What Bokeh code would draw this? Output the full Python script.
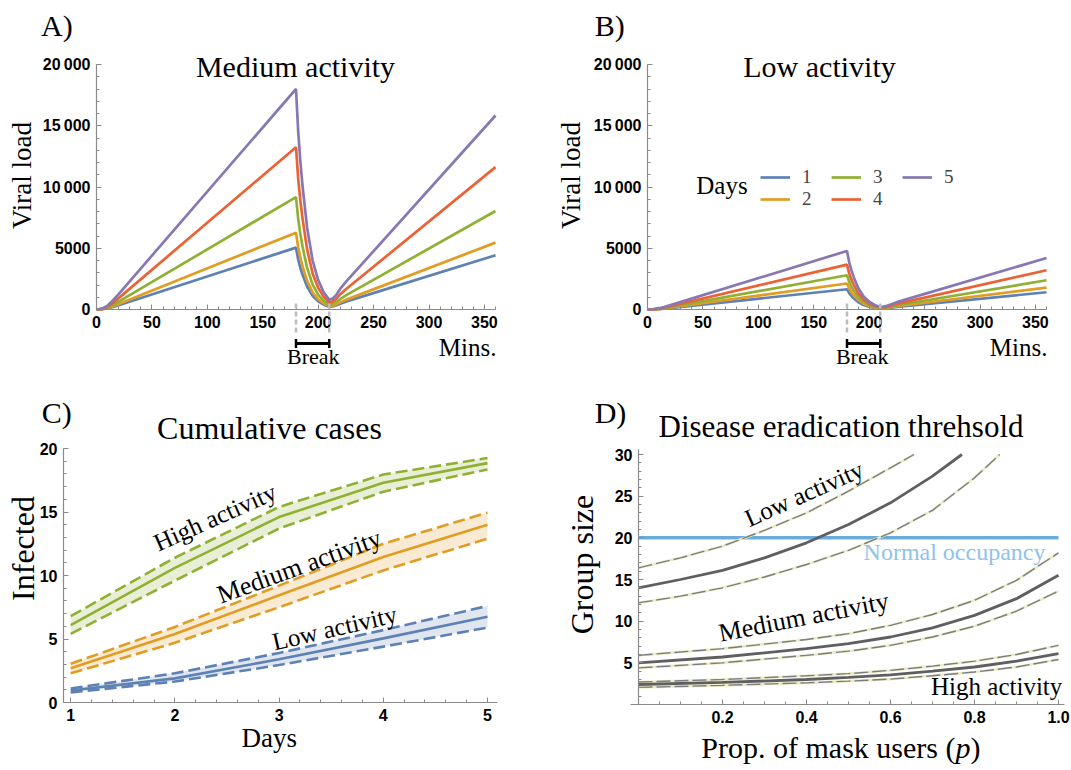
from bokeh.plotting import figure
from bokeh.layouts import row, column
from bokeh.models import (Range1d, Label, Arrow, TeeHead, Legend, LegendItem,
                          SingleIntervalTicker, FixedTicker, CustomJSTickFormatter,
                          PrintfTickFormatter)
from bokeh.embed import file_html
from bokeh.resources import INLINE

# ------------------------------------------------------------------ data
day_labels = ["1", "2", "3", "4", "5"]
day_colors = ["#5E81B5", "#E19C24", "#8FB032", "#EB6235", "#8778B3"]

# Panels A/B: viral load over a 6 hour session (break 180-210 min)
minutes = [0, 5, 10, 15, 20, 180, 182, 184, 186, 190, 195, 200, 205, 210,
           213, 216, 220, 225, 360]
medium_day1 = [0, 20, 90, 212, 354, 5050, 4070, 3370, 2810, 1880, 1120, 670, 390, 220,
               255, 325, 470, 640, 4425]
medium_day2 = [0, 25, 113, 264, 440, 6275, 5060, 4190, 3490, 2340, 1395, 835, 490, 275,
               315, 400, 580, 785, 5460]
medium_day3 = [0, 37, 165, 385, 640, 9180, 7400, 6120, 5100, 3420, 2040, 1220, 710, 400,
               460, 590, 850, 1150, 8040]
medium_day4 = [0, 50, 240, 560, 930, 13250, 10670, 8830, 7360, 4930, 2940, 1770, 1030, 580,
               660, 850, 1250, 1650, 11620]
medium_day5 = [0, 70, 320, 760, 1260, 18000, 14500, 12000, 10000, 6700, 4000, 2400, 1400, 790,
               900, 1150, 1700, 2250, 15835]
low_day1 = [0, 7, 30, 70, 116, 1655, 1330, 1100, 920, 615, 370, 220, 130, 75,
            85, 105, 150, 205, 1410]
low_day2 = [0, 8, 38, 89, 148, 2120, 1710, 1410, 1180, 790, 470, 280, 165, 95,
            110, 135, 190, 265, 1793]
low_day3 = [0, 11, 50, 117, 196, 2795, 2250, 1860, 1550, 1040, 620, 370, 220, 120,
            140, 175, 250, 345, 2388]
low_day4 = [0, 15, 66, 154, 257, 3665, 2950, 2440, 2040, 1360, 810, 490, 290, 160,
            185, 230, 330, 460, 3203]
low_day5 = [0, 19, 86, 200, 335, 4780, 3850, 3190, 2660, 1780, 1060, 640, 370, 210,
            240, 300, 430, 600, 4206]
break_start, break_end = 180, 210

# Panel C: cumulative cases
days = [1, 2, 3, 4, 5]
high_mean = [6.1, 10.6, 14.6, 17.3, 18.85]
high_upper = [6.8, 11.4, 15.4, 17.95, 19.25]
high_lower = [5.4, 9.6, 13.7, 16.6, 18.35]
med_mean = [2.7, 5.4, 8.45, 11.45, 14.0]
med_upper = [3.05, 5.95, 9.2, 12.5, 14.95]
med_lower = [2.3, 4.7, 7.5, 10.4, 12.9]
low_mean = [0.95, 1.9, 3.4, 5.05, 6.75]
low_upper = [1.1, 2.3, 3.9, 5.7, 7.6]
low_lower = [0.8, 1.65, 2.95, 4.4, 5.9]
activity_colors = {"high": "#8FB032", "medium": "#E19C24", "low": "#5E81B5"}

# Panel D: disease eradication threshold
p_low_mid = [0, 0.1, 0.2, 0.3, 0.4, 0.5, 0.6, 0.7, 0.77]
low_mid = [14.0, 15.0, 16.1, 17.6, 19.4, 21.6, 24.2, 27.4, 30.0]
p_low_up = [0, 0.1, 0.2, 0.3, 0.4, 0.5, 0.6, 0.656]
low_up = [16.4, 17.6, 19.0, 20.9, 23.0, 25.6, 28.4, 30.0]
p_low_lo = [0, 0.1, 0.2, 0.3, 0.4, 0.5, 0.6, 0.7, 0.8, 0.86]
low_lo = [12.2, 13.0, 14.0, 15.3, 16.8, 18.5, 20.6, 23.3, 27.2, 30.0]
p_grid = [0, 0.2, 0.4, 0.5, 0.6, 0.7, 0.8, 0.9, 1.0]
medium_mid = [5.0, 5.7, 6.7, 7.3, 8.1, 9.2, 10.7, 12.7, 15.5]
medium_up = [5.9, 6.7, 7.8, 8.5, 9.5, 10.8, 12.5, 14.9, 18.2]
medium_lo = [4.4, 5.0, 5.9, 6.4, 7.1, 8.1, 9.4, 11.2, 13.6]
high_mid = [2.4, 2.65, 3.0, 3.25, 3.55, 4.0, 4.5, 5.2, 6.1]
high_up = [2.7, 3.0, 3.45, 3.7, 4.1, 4.6, 5.2, 6.0, 7.1]
high_lo = [2.05, 2.3, 2.6, 2.8, 3.05, 3.45, 3.9, 4.5, 5.4]
normal_occupancy = 20
p_occupancy = [0, 1.0]

# ------------------------------------------------------------------ geometry (page px)
SERIF = "Liberation Serif"
# data boxes: where the axes' data extent sits on the page
FA = dict(left=96, right=495, top=64, bottom=309, x=(0, 360), y=(0, 20000))
FB = dict(left=647, right=1046, top=64, bottom=309, x=(0, 360), y=(0, 20000))
FC = dict(left=63, right=497, top=448, bottom=702, x=(0.931, 5.096), y=(0, 20))
FD = dict(left=638, right=1058, top=449, bottom=704, x=(0, 1.0), y=(0, 30.6))


def to_data(fr, px, py):
    x0, x1 = fr["x"]
    y0, y1 = fr["y"]
    x = x0 + (px - fr["left"]) * (x1 - x0) / (fr["right"] - fr["left"])
    y = y0 + (fr["bottom"] - py) * (y1 - y0) / (fr["bottom"] - fr["top"])
    return x, y


def to_px(fr, x, y):
    x0, x1 = fr["x"]
    y0, y1 = fr["y"]
    px = fr["left"] + (x - x0) * (fr["right"] - fr["left"]) / (x1 - x0)
    py = fr["bottom"] - (y - y0) * (fr["bottom"] - fr["top"]) / (y1 - y0)
    return px, py


def make_fig(fr, fx, fy, fw, fh, xbounds, ybounds):
    xs, ye = to_data(fr, fx, fy)
    xe, ys = to_data(fr, fx + fw, fy + fh)
    p = figure(title=None, frame_width=fw, frame_height=fh, min_border=0,
               min_border_left=0, min_border_right=0, min_border_top=0, min_border_bottom=0,
               x_range=Range1d(xs, xe), y_range=Range1d(ys, ye),
               output_backend="svg", toolbar_location=None)
    p.grid.visible = False
    p.outline_line_color = None
    p.background_fill_color = "white"
    p.border_fill_color = "white"
    p.xaxis.fixed_location = fr["y"][0]
    p.yaxis.fixed_location = fr["x"][0]
    p.xaxis.bounds = xbounds
    p.yaxis.bounds = ybounds
    for ax in (p.xaxis[0], p.yaxis[0]):
        ax.axis_line_color = "#8a8a8a"
        ax.axis_line_width = 1.2
        ax.major_tick_line_color = "#8a8a8a"
        ax.minor_tick_line_color = "#8a8a8a"
        ax.major_tick_in = 5
        ax.major_tick_out = 0
        ax.minor_tick_in = 3
        ax.minor_tick_out = 0
        ax.major_label_text_font = "Liberation Sans"
        ax.major_label_text_font_style = "bold"
        ax.major_label_text_font_size = "16px"
        ax.major_label_text_color = "black"
        ax.major_label_standoff = 6
    return p


def text_px(p, fr, text, px, py, size, align="left", baseline="alphabetic",
            angle=0, color="black", style="normal"):
    # positions given as text baselines are converted to the text's middle
    if baseline == "alphabetic":
        py = py - 0.33 * size
        baseline = "middle"
    x, y = to_data(fr, px, py)
    p.add_layout(Label(x=x, y=y, text=text, text_font=SERIF,
                       text_font_size=f"{size}px", text_align=align,
                       text_baseline=baseline, angle=angle, angle_units="deg",
                       text_color=color, text_font_style=style))


def text_data(p, fr, text, x, y, size, **kw):
    px, py = to_px(fr, x, y)
    text_px(p, fr, text, px, py, size, **kw)


thousands = CustomJSTickFormatter(
    code="return tick >= 10000 ? Math.round(tick/1000) + '\u2009000' : String(tick);")


def viral_panel(fr, fx, fw, series, title, title_x, panel_label, panel_x, ylabel_x,
                break_label_x):
    p = make_fig(fr, fx, 0, fw, 380, fr["x"], fr["y"])
    p.xaxis.ticker = SingleIntervalTicker(interval=50, num_minor_ticks=5)
    p.yaxis.ticker = SingleIntervalTicker(interval=5000, num_minor_ticks=5)
    p.yaxis.formatter = thousands
    renderers = []
    for vals, col in zip(series, day_colors):
        renderers.append(p.line(minutes, vals, line_color=col, line_width=2.7))
    # break markers below the axis
    _, ytop = to_data(fr, 0, 303)
    _, ybot = to_data(fr, 0, 333)
    for xb in (break_start, break_end):
        p.add_layout(Arrow(end=None, x_start=xb, y_start=ytop, x_end=xb, y_end=ybot,
                           line_color="#bdbdbd", line_width=2.5, line_dash="5 3"))
    _, ybr = to_data(fr, 0, 343)
    p.add_layout(Arrow(start=TeeHead(size=9, line_width=2.5, line_color="black"),
                       end=TeeHead(size=9, line_width=2.5, line_color="black"),
                       x_start=break_start, y_start=ybr, x_end=break_end, y_end=ybr,
                       line_color="black", line_width=3))
    text_px(p, fr, "Break", break_label_x, 363, 22, align="center")
    text_px(p, fr, "Mins.", fr["right"] + 1, 355, 25, align="right")
    text_px(p, fr, title, title_x, 76, 30, align="center")
    text_px(p, fr, panel_label, panel_x, 35, 30)
    text_px(p, fr, "Viral load", ylabel_x, 175, 27, align="center",
            baseline="middle", angle=90)
    return p, renderers


pA, _ = viral_panel(FA, 0, 540, [medium_day1, medium_day2, medium_day3, medium_day4, medium_day5],
                    "Medium activity", 295, "A)", 40.6, 21.7, 312.8)
pB, rB = viral_panel(FB, 540, 530, [low_day1, low_day2, low_day3, low_day4, low_day5],
                     "Low activity", 819, "B)", 594.2, 570.8, 861.7)

legend = Legend(items=[LegendItem(label=lab, renderers=[r]) for lab, r in zip(day_labels, rB)],
                location=(220, 170), orientation="vertical", nrows=2,
                glyph_width=30, glyph_height=22, label_width=29, label_height=22,
                label_standoff=12, spacing=0, padding=0, margin=0,
                label_text_font=SERIF, label_text_font_size="19px",
                background_fill_alpha=0, border_line_color=None)
pB.add_layout(legend)
text_px(pB, FB, "Days", 747.2, 193, 25, align="right")

# ------------------------------------------------------------------ panel C
pC = make_fig(FC, 0, 380, 540, 389, FC["x"], FC["y"])
pC.xaxis.ticker = SingleIntervalTicker(interval=1, num_minor_ticks=5)
pC.yaxis.ticker = SingleIntervalTicker(interval=5, num_minor_ticks=5)
for key, mean, up, lo in (("high", high_mean, high_upper, high_lower),
                          ("medium", med_mean, med_upper, med_lower),
                          ("low", low_mean, low_upper, low_lower)):
    col = activity_colors[key]
    pC.varea(x=days, y1=lo, y2=up, fill_color=col, fill_alpha=0.2)
    pC.line(days, up, line_color=col, line_width=2.6, line_dash="12 5")
    pC.line(days, lo, line_color=col, line_width=2.6, line_dash="12 5")
    pC.line(days, mean, line_color=col, line_width=2.6)
text_px(pC, FC, "High activity", 214.4, 516.7, 25, align="center", baseline="middle", angle=24)
text_px(pC, FC, "Medium activity", 298.7, 565.8, 26, align="center", baseline="middle", angle=20)
text_px(pC, FC, "Low activity", 334, 627.5, 25, align="center", baseline="middle", angle=13)
text_px(pC, FC, "Cumulative cases", 269, 438.3, 32, align="center")
text_px(pC, FC, "C)", 41.3, 422, 30)
text_px(pC, FC, "Infected", 22, 548, 32, align="center", baseline="middle", angle=90)
text_px(pC, FC, "Days", 268.7, 746.7, 27, align="center")

# ------------------------------------------------------------------ panel D
pD = make_fig(FD, 540, 380, 530, 389, (-0.02, 1.015), FD["y"])
pD.xaxis.ticker = FixedTicker(ticks=[0.2, 0.4, 0.6, 0.8, 1.0],
                              minor_ticks=[round(0.05 * i, 2) for i in range(0, 21)])
pD.xaxis.formatter = PrintfTickFormatter(format="%.1f")
pD.yaxis.ticker = FixedTicker(ticks=[5, 10, 15, 20, 25, 30], minor_ticks=list(range(1, 31)))

pD.line(p_occupancy, [normal_occupancy] * len(p_occupancy), line_color="#6AADDD", line_width=3.5)


def dashed_curve(p, x, y):
    p.line(x, y, line_color="#ecebc8", line_width=2.6)
    p.line(x, y, line_color="#7d7d7d", line_width=1.4, line_dash="14 4")


for x, y in ((p_low_up, low_up), (p_low_lo, low_lo), (p_grid, medium_up),
             (p_grid, medium_lo), (p_grid, high_up), (p_grid, high_lo)):
    dashed_curve(pD, x, y)
for x, y in ((p_low_mid, low_mid), (p_grid, medium_mid), (p_grid, high_mid)):
    pD.line(x, y, line_color="#5f5f5f", line_width=2.8)

text_data(pD, FD, "Low activity", 0.394, 25.3, 25, align="center", baseline="middle", angle=24)
text_data(pD, FD, "Medium activity", 0.393, 10.5, 26, align="center", baseline="middle", angle=11)
text_data(pD, FD, "High activity", 1.009, 1.13, 25, align="right")
text_data(pD, FD, "Normal occupancy", 0.969, 17.3, 24, align="right", color="#8EC3EA")
text_px(pD, FD, "Disease eradication threhsold", 840.5, 436.7, 31, align="center")
text_px(pD, FD, "D)", 594.2, 421.7, 30)
text_px(pD, FD, "Group size", 581.5, 564, 32, align="center", baseline="middle", angle=90)
text_px(pD, FD, "Prop. of mask users (", 955, 757, 30, align="right")
text_px(pD, FD, "p", 955, 757, 30, align="left", style="italic")
text_px(pD, FD, ")", 970, 757, 30, align="left")

layout = column(row(pA, pB), row(pC, pD))
with open("out.html", "w", encoding="utf-8") as f:
    f.write(file_html(layout, INLINE))
